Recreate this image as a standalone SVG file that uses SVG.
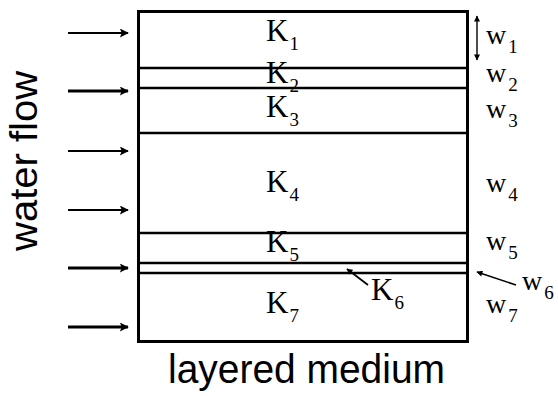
<svg xmlns="http://www.w3.org/2000/svg" width="558" height="396" viewBox="0 0 558 396">
<defs>
<marker id="ah" viewBox="0 0 10 10" refX="9" refY="5" markerWidth="11" markerHeight="9" markerUnits="userSpaceOnUse" orient="auto-start-reverse">
<path d="M0,0 L10,5 L0,10 L2,5 Z" fill="#000"/>
</marker>
<marker id="sh" viewBox="0 0 10 10" refX="9" refY="5" markerWidth="7" markerHeight="6" markerUnits="userSpaceOnUse" orient="auto-start-reverse">
<path d="M0,0 L10,5 L0,10 Z" fill="#000"/>
</marker>
<style>
.b{fill:none;stroke:#000;stroke-width:3}
.l{stroke:#000;stroke-width:2.6}
.fa{stroke:#000;stroke-width:2;marker-end:url(#ah)}
.fb{stroke:#000;stroke-width:3;marker-end:url(#ah)}
.k{font-family:"Liberation Serif","Times New Roman",serif;font-size:31px;fill:#000}
.w{font-family:"Liberation Serif","Times New Roman",serif;font-size:28px;fill:#000}
.s{font-size:19px}
.lab{font-family:"Liberation Sans",Arial,sans-serif;fill:#000}
</style>
</defs>
<rect width="558" height="396" fill="#fff"/>
<g id="medium">
<rect class="b" x="138.5" y="11.5" width="329" height="330"/>
<line class="l" x1="138" y1="68" x2="468" y2="68"/>
<line class="l" x1="138" y1="88" x2="468" y2="88"/>
<line class="l" x1="138" y1="133" x2="468" y2="133"/>
<line class="l" x1="138" y1="233" x2="468" y2="233"/>
<line class="l" x1="138" y1="263" x2="468" y2="263"/>
<line class="l" x1="138" y1="273" x2="468" y2="273"/>
</g>
<g id="k-labels">
<text class="k" x="266" y="41">K<tspan class="s" dx="1" dy="9">1</tspan></text>
<text class="k" x="266" y="83">K<tspan class="s" dx="1" dy="9">2</tspan></text>
<text class="k" x="266" y="117">K<tspan class="s" dx="1" dy="9">3</tspan></text>
<text class="k" x="266" y="192">K<tspan class="s" dx="1" dy="9">4</tspan></text>
<text class="k" x="266" y="252">K<tspan class="s" dx="1" dy="9">5</tspan></text>
<text class="k" x="371" y="300">K<tspan class="s" dx="1" dy="9">6</tspan></text>
<text class="k" x="266" y="313">K<tspan class="s" dx="1" dy="9">7</tspan></text>
</g>
<g id="w-labels">
<text class="w" x="486" y="44">w<tspan class="s" dx="2" dy="9">1</tspan></text>
<text class="w" x="486" y="82">w<tspan class="s" dx="2" dy="9">2</tspan></text>
<text class="w" x="486" y="118">w<tspan class="s" dx="2" dy="9">3</tspan></text>
<text class="w" x="486" y="192">w<tspan class="s" dx="2" dy="9">4</tspan></text>
<text class="w" x="486" y="250">w<tspan class="s" dx="2" dy="9">5</tspan></text>
<text class="w" x="522" y="290">w<tspan class="s" dx="2" dy="9">6</tspan></text>
<text class="w" x="486" y="313">w<tspan class="s" dx="2" dy="9">7</tspan></text>
</g>
<g id="connectors">
<line class="fa" x1="68" y1="33" x2="128" y2="33"/>
<line class="fb" x1="68" y1="91" x2="128" y2="91"/>
<line class="fa" x1="68" y1="151" x2="128" y2="151"/>
<line class="fa" x1="68" y1="210" x2="128" y2="210"/>
<line class="fb" x1="68" y1="268" x2="128" y2="268"/>
<line class="fb" x1="68" y1="327" x2="128" y2="327"/>
<line x1="477" y1="16" x2="477" y2="60" stroke="#000" stroke-width="1.4" marker-start="url(#sh)" marker-end="url(#sh)"/>
<line x1="516" y1="285" x2="477" y2="272" stroke="#000" stroke-width="1.6" marker-end="url(#sh)"/>
<line x1="368" y1="285" x2="347" y2="269" stroke="#000" stroke-width="1.6" marker-end="url(#sh)"/>
</g>
<g id="titles">
<text class="lab" font-size="38" text-anchor="middle" textLength="180" lengthAdjust="spacingAndGlyphs" transform="translate(37,161) rotate(-90)">water flow</text>
<text class="lab" font-size="40" x="168" y="383" textLength="277" lengthAdjust="spacingAndGlyphs">layered medium</text>
</g>
</svg>
